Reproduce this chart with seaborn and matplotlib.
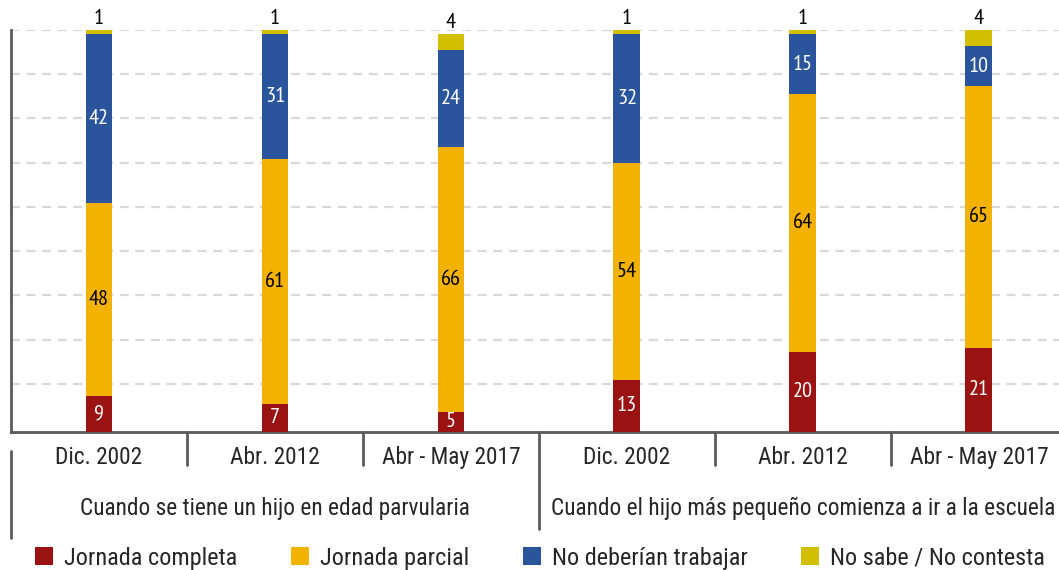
import numpy as np
import pandas as pd
import matplotlib.pyplot as plt
from matplotlib.patches import Patch
import seaborn as sns

periodos = ['Dic. 2002', 'Abr. 2012', 'Abr - May 2017',
            'Dic. 2002', 'Abr. 2012', 'Abr - May 2017']
grupos = ['Cuando se tiene un hijo en edad parvularia',
          'Cuando el hijo más pequeño comienza a ir a la escuela']
series = ['Jornada completa', 'Jornada parcial', 'No deberían trabajar', 'No sabe / No contesta']
completa = [9, 7, 5, 13, 20, 21]
parcial = [48, 61, 66, 54, 64, 65]
no_deberian = [42, 31, 24, 32, 15, 10]
no_sabe = [1, 1, 4, 1, 1, 4]
colores = ['#9B1212', '#F4B200', '#2A549C', '#D2BF00']

sns.set_theme(style='white')
plt.rcParams['font.family'] = ['Roboto Condensed', 'Archivo Narrow', 'PT Sans Narrow',
                               'IBM Plex Sans Condensed', 'DejaVu Sans']
num_font = ['PT Sans Narrow', 'Roboto Condensed', 'DejaVu Sans']

c1 = np.array(completa)
c2 = c1 + np.array(parcial)
c3 = c2 + np.array(no_deberian)
c4 = c3 + np.array(no_sabe)

pos = [f'p{i}' for i in range(len(periodos))]
df = pd.DataFrame({'pos': pos, 'c1': c1, 'c2': c2, 'c3': c3, 'c4': c4})

fig = plt.figure(figsize=(10.59, 5.70), dpi=100)
ax = fig.add_axes([11 / 1059, 138 / 570, 1048 / 1059, 402 / 570])

bw = 0.153
# stacked look: cumulative totals drawn from the top down
for col, color in zip(['c4', 'c3', 'c2', 'c1'], colores[::-1]):
    sns.barplot(data=df, x='pos', y=col, color=color, width=bw, saturation=1,
                ax=ax, zorder=3, order=pos, linewidth=0, edgecolor='none')

ax.set_xlim(-0.5, 5.455)
ax.set_ylim(0, 100)
ax.set_xlabel('')
ax.set_ylabel('')
ax.set_yticks([])
ax.set_xticks([])

# dashed gridlines
for g in np.arange(100, 5, -11):
    ax.axhline(g, color='#D9D9DC', lw=1.6, ls=(0, (4, 3)), zorder=1)

for s in ['top', 'right']:
    ax.spines[s].set_visible(False)
for s in ['left', 'bottom']:
    ax.spines[s].set_color('#5A5A5A')
    ax.spines[s].set_linewidth(2)

# value labels
fs = 16
for i in range(len(periodos)):
    ax.text(i, c1[i] / 2, str(completa[i]), ha='center', va='center',
            color='white', fontsize=fs, family=num_font, zorder=4)
    ax.text(i, (c1[i] + c2[i]) / 2, str(parcial[i]), ha='center', va='center',
            color='black', fontsize=fs, family=num_font, zorder=4)
    ax.text(i, (c2[i] + c3[i]) / 2, str(no_deberian[i]), ha='center', va='center',
            color='white', fontsize=fs, family=num_font, zorder=4)
    ax.text(i, c4[i] + 0.4, str(no_sabe[i]), ha='center', va='bottom',
            color='black', fontsize=fs, family=num_font, zorder=4)

# category axis with separators
tr = ax.get_xaxis_transform()
for b in [0.5, 1.5, 3.5, 4.5]:
    ax.plot([b, b], [0, -0.082], color='#5A5A5A', lw=2, transform=tr, clip_on=False)
ax.plot([2.5, 2.5], [0, -0.242], color='#5A5A5A', lw=2, transform=tr, clip_on=False)
ax.plot([-0.5, -0.5], [-0.047, -0.264], color='#5A5A5A', lw=2, transform=tr, clip_on=False)

for i, lab in enumerate(periodos):
    ax.text(i, -0.064, lab, ha='center', va='center', fontsize=16.8, transform=tr)
for j, lab in enumerate(grupos):
    ax.text(1 + 3 * j, -0.19, lab, ha='center', va='center', fontsize=16.8, transform=tr)

handles = [Patch(facecolor=c, edgecolor='none') for c in colores]
fig.legend(handles, series, loc='center', bbox_to_anchor=(0.51, 1 - 558 / 570),
           ncol=4, frameon=False, fontsize=17.5, handlelength=0.75, handleheight=0.75,
           handletextpad=0.45, columnspacing=2.2, borderpad=0)

fig.savefig('out.png', dpi=100)
